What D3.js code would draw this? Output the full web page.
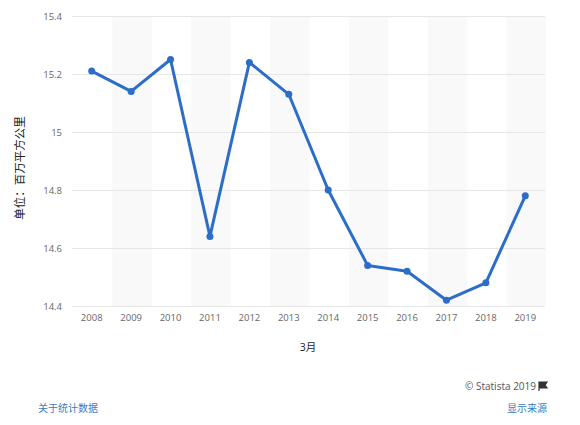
<!DOCTYPE html>
<html>
<head>
<meta charset="utf-8">
<script src="https://cdn.jsdelivr.net/npm/d3@7"></script>
<style>
body { margin: 0; background: #fff; }
text { font-family: "Open Sans", "Noto Sans CJK SC", sans-serif; }
</style>
</head>
<body>
<script>
var years = ["2008", "2009", "2010", "2011", "2012", "2013", "2014", "2015", "2016", "2017", "2018", "2019"];
var extent = [15.21, 15.14, 15.25, 14.64, 15.24, 15.13, 14.80, 14.54, 14.52, 14.42, 14.48, 14.78];
var yTicks = [14.4, 14.6, 14.8, 15, 15.2, 15.4];

var w = 580, h = 425;
// note: "top" is reserved on window, so use plot* names
var plotL = 72, plotR = 545, plotT = 16, plotB = 306;

var svg = d3.select("body").append("svg")
    .attr("width", w)
    .attr("height", h);

var x = d3.scaleBand().domain(years).range([plotL, plotR]);
var y = d3.scaleLinear().domain([14.4, 15.4]).range([plotB, plotT]);

// alternating column shading
svg.selectAll("rect.band")
    .data(years.filter(function(d, i) { return i % 2 == 1; }))
    .enter().append("rect")
    .attr("class", "band")
    .attr("x", function(d) { return x(d) + 1; })
    .attr("y", plotT)
    .attr("width", x.bandwidth())
    .attr("height", plotB - plotT)
    .attr("fill", "#f9f9fa");

// gridlines + y labels
var yAxis = svg.append("g")
    .attr("transform", "translate(" + plotL + ",0)")
    .call(d3.axisLeft(y).tickValues(yTicks).tickSize(-(plotR - plotL)).tickFormat(d3.format("")));
yAxis.select(".domain").remove();
yAxis.selectAll("line").attr("stroke", "#e6e6e6");
yAxis.selectAll("text")
    .attr("x", -10)
    .attr("fill", "#666")
    .attr("font-size", "9.5px");

// x labels
var xAxis = svg.append("g")
    .attr("transform", "translate(0," + plotB + ")")
    .call(d3.axisBottom(x).tickSize(0).tickPadding(8));
xAxis.select(".domain").remove();
xAxis.selectAll("text")
    .attr("fill", "#666")
    .attr("font-size", "9.5px");

// line
var line = d3.line()
    .x(function(d, i) { return x(years[i]) + x.bandwidth() / 2; })
    .y(function(d) { return y(d); });

svg.append("path")
    .datum(extent)
    .attr("d", line)
    .attr("fill", "none")
    .attr("stroke", "#2c6dca")
    .attr("stroke-width", 3)
    .attr("stroke-linejoin", "round");

svg.selectAll("circle")
    .data(extent)
    .enter().append("circle")
    .attr("cx", function(d, i) { return x(years[i]) + x.bandwidth() / 2; })
    .attr("cy", function(d) { return y(d); })
    .attr("r", 3.5)
    .attr("fill", "#2c6dca");

// axis titles
svg.append("text")
    .attr("transform", "translate(24," + ((plotT + plotB) / 2 + 7) + ") rotate(-90)")
    .attr("text-anchor", "middle")
    .attr("font-size", "11.5px")
    .attr("fill", "#222")
    .text("单位：百万平方公里");

svg.append("text")
    .attr("x", 308)
    .attr("y", 351)
    .attr("text-anchor", "middle")
    .attr("font-size", "10.5px")
    .attr("fill", "#222")
    .text("3月");

// footer
svg.append("text")
    .attr("x", 536)
    .attr("y", 390)
    .attr("text-anchor", "end")
    .attr("font-size", "10px")
    .attr("fill", "#555")
    .text("© Statista 2019");

// little flag
svg.append("path")
    .attr("d", "M539,382 L539,391 M539,382 L547,382 L545,385 L547,388 L539,388 Z")
    .attr("stroke", "#333")
    .attr("stroke-width", 1.2)
    .attr("fill", "#333");

svg.append("text")
    .attr("x", 38)
    .attr("y", 412)
    .attr("font-size", "10px")
    .attr("fill", "#3a7bbf")
    .text("关于统计数据");

svg.append("text")
    .attr("x", 547)
    .attr("y", 412)
    .attr("text-anchor", "end")
    .attr("font-size", "10px")
    .attr("fill", "#3a7bbf")
    .text("显示来源");
</script>
</body>
</html>
